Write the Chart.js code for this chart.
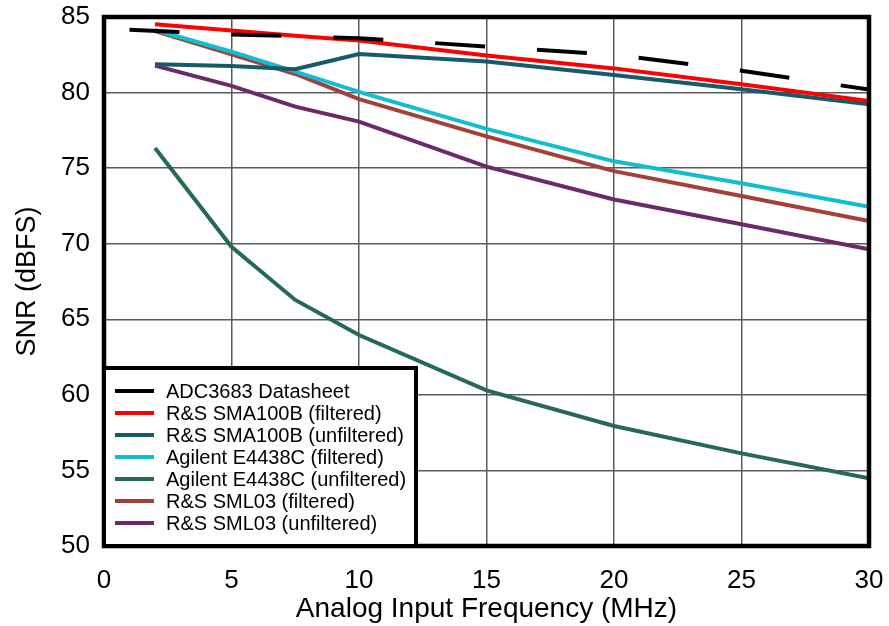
<!DOCTYPE html>
<html>
<head>
<meta charset="utf-8">
<title>SNR vs Analog Input Frequency</title>
<script src="https://cdn.jsdelivr.net/npm/chart.js@4.4.1/dist/chart.umd.min.js"></script>
<style>
  html, body { margin: 0; padding: 0; background: #fff; }
  #wrap { width: 889px; height: 626px; position: relative; }
</style>
</head>
<body>
<div id="wrap"><canvas id="snrChart" width="889" height="626"></canvas></div>
<script>
// ===== DATA =====
const freqAdc = [1, 5, 10, 15, 20, 25, 30];
const freqMeas = [2, 5, 7.5, 10, 15, 20, 25, 30];

const snrAdc = [84.15, 83.85, 83.6, 83.05, 82.5, 81.45, 80.2];
const snrSmaFilt = [84.52, 84.11, 83.76, 83.45, 82.45, 81.6, 80.55, 79.44];
const snrSmaUnf = [81.87, 81.76, 81.54, 82.55, 82.05, 81.16, 80.22, 79.23];
const snrAgiFilt = [84.14, 82.7, 81.38, 80.05, 77.6, 75.45, 74.0, 72.45];
const snrAgiUnf = [76.33, 69.8, 66.28, 63.96, 60.3, 57.94, 56.13, 54.48];
const snrSmlFilt = [84.07, 82.53, 81.23, 79.56, 77.1, 74.8, 73.16, 71.5];
const snrSmlUnf = [81.78, 80.44, 79.07, 78.08, 75.1, 72.93, 71.29, 69.63];

const seriesNames = [
  "ADC3683 Datasheet",
  "R&S SMA100B (filtered)",
  "R&S SMA100B (unfiltered)",
  "Agilent E4438C (filtered)",
  "Agilent E4438C (unfiltered)",
  "R&S SML03 (filtered)",
  "R&S SML03 (unfiltered)"
];
const xTicks = [0, 5, 10, 15, 20, 25, 30];
const yTicks = [50, 55, 60, 65, 70, 75, 80, 85];

// ===== helpers =====
const toPoints = (xs, ys) => ys.map((y, i) => ({ x: xs[i], y: y }));

const FONT = "'Liberation Sans', Arial, Helvetica, sans-serif";

const seriesColors = ["#000000", "#ff0000", "#175a6a", "#11bdd1", "#266b4b", "#a3403b", "#6b2a68"];
const seriesValues = [snrAdc, snrSmaFilt, snrSmaUnf, snrAgiFilt, snrAgiUnf, snrSmlFilt, snrSmlUnf];

const datasets = seriesValues.map((vals, i) => ({
  label: seriesNames[i],
  data: toPoints(i === 0 ? freqAdc : freqMeas, vals),
  borderColor: seriesColors[i],
  backgroundColor: seriesColors[i],
  borderWidth: 4,
  borderDash: i === 0 ? [50, 52] : [],
  borderCapStyle: "butt",
  pointRadius: 0,
  tension: 0,
  fill: false
}));

/*===== frame + legend box drawn on top =====*/
const frameLegend = {
  id: "frameLegend",
  afterDraw(chart) {
    const ctx = chart.ctx;
    const a = chart.chartArea;
    ctx.save();
    // plot frame
    ctx.strokeStyle = "#000";
    ctx.lineWidth = 4.5;
    ctx.strokeRect(a.left, a.top, a.right - a.left, a.bottom - a.top);

    // legend box (bottom left inside plot)
    const bx = a.left, bw = 312, bh = 178;
    const by = a.bottom - bh;
    ctx.fillStyle = "#fff";
    ctx.fillRect(bx, by, bw, bh);
    ctx.lineWidth = 4;
    ctx.strokeRect(bx, by, bw, bh);

    ctx.font = "20px " + FONT;
    ctx.textBaseline = "middle";
    ctx.textAlign = "left";
    chart.data.datasets.forEach((ds, i) => {
      const y = by + 23 + i * 22;
      ctx.strokeStyle = ds.borderColor;
      ctx.lineWidth = 4;
      ctx.beginPath();
      ctx.moveTo(bx + 11, y);
      ctx.lineTo(bx + 50, y);
      ctx.stroke();
      ctx.fillStyle = "#000";
      ctx.fillText(ds.label, bx + 62, y + 1);
    });
    ctx.restore();
  }
};

new Chart(document.getElementById("snrChart"), {
  type: "line",
  data: { datasets: datasets },
  options: {
    responsive: false,
    animation: false,
    layout: { padding: { top: 17, right: 20, bottom: 0, left: 0 } },
    plugins: {
      legend: { display: false },
      tooltip: { enabled: false }
    },
    scales: {
      x: {
        type: "linear",
        min: 0,
        max: 30,
        afterBuildTicks: (s) => { s.ticks = xTicks.map(v => ({ value: v })); },
        afterFit: (s) => { s.height = 80; },
        grid: { color: "#5a5a5a", lineWidth: 1.5, drawTicks: true, tickLength: 19, tickColor: "rgba(0,0,0,0)" },
        border: { display: false },
        ticks: { color: "#000", padding: 0, font: { size: 26, family: FONT } },
        title: {
          display: true,
          text: "Analog Input Frequency (MHz)",
          color: "#000",
          font: { size: 28, family: FONT },
          padding: { top: 0, bottom: 0 }
        }
      },
      y: {
        type: "linear",
        min: 50,
        max: 85,
        afterBuildTicks: (s) => { s.ticks = yTicks.map(v => ({ value: v })); },
        afterFit: (s) => { s.width = 104; },
        grid: { color: "#5a5a5a", lineWidth: 1.5, drawTicks: true, tickLength: 14, tickColor: "rgba(0,0,0,0)" },
        border: { display: false },
        ticks: { color: "#000", padding: 0, font: { size: 26, family: FONT } },
        title: {
          display: true,
          text: "SNR (dBFS)",
          color: "#000",
          font: { size: 27, family: FONT },
          padding: { top: 11, bottom: 0 }
        }
      }
    }
  },
  plugins: [frameLegend]
});
</script>
</body>
</html>
